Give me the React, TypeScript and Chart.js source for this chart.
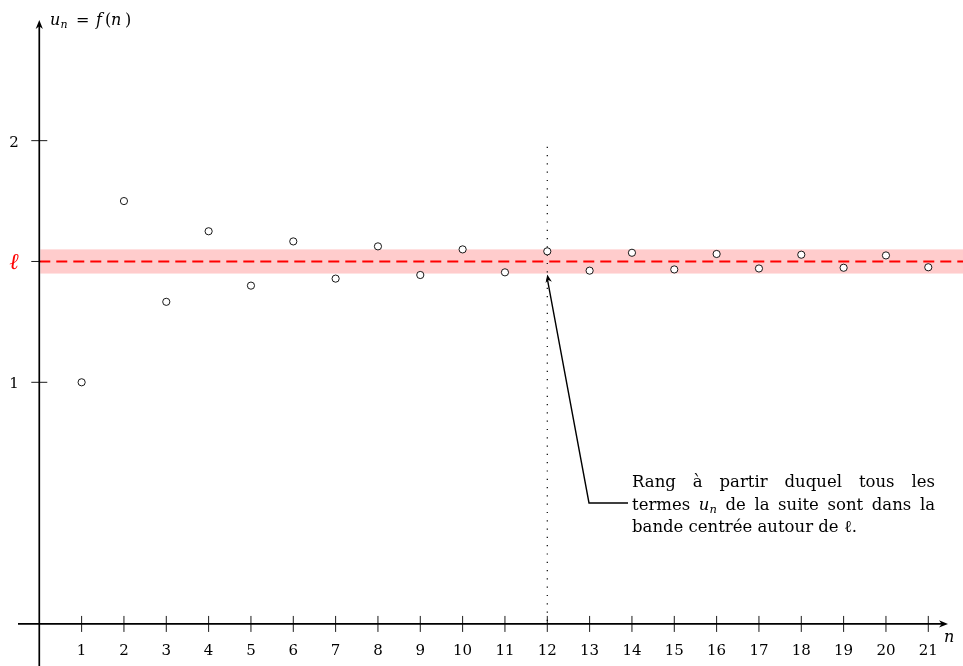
import React, { useEffect, useRef } from "react";
import { Chart, registerables } from "chart.js";

Chart.register(...registerables);

// ---- data ----
const ranks = [1, 2, 3, 4, 5, 6, 7, 8, 9, 10, 11, 12, 13, 14, 15, 16, 17, 18, 19, 20, 21];
const terms = [1.0, 1.75, 1.333, 1.625, 1.4, 1.583, 1.429, 1.5625, 1.444, 1.55, 1.455, 1.542, 1.462, 1.536, 1.467, 1.531, 1.471, 1.528, 1.474, 1.525, 1.476];
const xTickValues = [1, 2, 3, 4, 5, 6, 7, 8, 9, 10, 11, 12, 13, 14, 15, 16, 17, 18, 19, 20, 21];
const yTickValues = [1, 2];
const limitValue = 1.5;
const bandLow = 1.45;
const bandHigh = 1.55;
const thresholdRank = 12;
const thresholdTop = 1.975;
const xRange = [-0.928, 21.82];
const yRange = [-0.174, 2.582];
const noteLine1 = ["Rang", "à", "partir", "duquel", "tous", "les"];
const noteLine2 = ["termes", "$un", "de", "la", "suite", "sont", "dans", "la"];
const noteLine3 = ["bande", "centrée", "autour", "de", "ℓ."];

const SERIF = '"DejaVu Serif", "Liberation Serif", serif';

type Run = { t: string; italic?: boolean; size: number; dy?: number; color?: string; x?: number };

function setFont(ctx: CanvasRenderingContext2D, r: Run) {
  ctx.font = `${r.italic ? "italic " : ""}${r.size}px ${SERIF}`;
}
function measureRuns(ctx: CanvasRenderingContext2D, runs: Run[]) {
  let w = 0;
  for (const r of runs) {
    setFont(ctx, r);
    w += ctx.measureText(r.t).width;
  }
  return w;
}
function drawRuns(ctx: CanvasRenderingContext2D, runs: Run[], x: number, y: number) {
  let cx = x;
  ctx.textAlign = "left";
  ctx.textBaseline = "alphabetic";
  for (const r of runs) {
    setFont(ctx, r);
    ctx.fillStyle = r.color || "#000";
    if (r.x !== undefined) cx = r.x;
    ctx.fillText(r.t, cx, y + (r.dy || 0));
    cx += ctx.measureText(r.t).width;
  }
  return cx - x;
}

const NOTE_SIZE = 16.5;
function wordRuns(w: string): Run[] {
  if (w === "$un") {
    return [
      { t: "u", italic: true, size: NOTE_SIZE },
      { t: "n", italic: true, size: 11.5, dy: 3 },
    ];
  }
  return [{ t: w, size: NOTE_SIZE }];
}

function drawLine(ctx: CanvasRenderingContext2D, words: string[], x0: number, x1: number, y: number, justify: boolean) {
  const runs = words.map(wordRuns);
  const widths = runs.map((r) => measureRuns(ctx, r));
  const total = widths.reduce((a, b) => a + b, 0);
  ctx.font = `${NOTE_SIZE}px ${SERIF}`;
  const space = justify ? (x1 - x0 - total) / (words.length - 1) : ctx.measureText(" ").width;
  let x = x0;
  runs.forEach((r, i) => {
    drawRuns(ctx, r, x, y);
    x += widths[i] + space;
  });
}

function filledArrow(ctx: CanvasRenderingContext2D, x: number, y: number, ang: number, len: number, half: number) {
  ctx.save();
  ctx.translate(x, y);
  ctx.rotate(ang);
  ctx.beginPath();
  ctx.moveTo(0, 0);
  ctx.lineTo(-len, -half);
  ctx.lineTo(-len * 0.7, 0);
  ctx.lineTo(-len, half);
  ctx.closePath();
  ctx.fillStyle = "#000";
  ctx.fill();
  ctx.restore();
}

const decor = {
  id: "decor",
  beforeDatasetsDraw(chart: any) {
    const ctx: CanvasRenderingContext2D = chart.ctx;
    const xs = chart.scales.x;
    const ys = chart.scales.y;
    const W = chart.width;
    const H = chart.height;
    const x0 = xs.getPixelForValue(0);
    const y0 = ys.getPixelForValue(0);
    ctx.save();
    // band
    const bt = ys.getPixelForValue(bandHigh);
    const bb = ys.getPixelForValue(bandLow);
    ctx.fillStyle = "rgba(255, 0, 0, 0.2)";
    ctx.fillRect(x0 + 1, bt, W - x0 - 1, bb - bt);
    // dashed limit line
    const yl = ys.getPixelForValue(limitValue);
    ctx.strokeStyle = "#ff0000";
    ctx.lineWidth = 2;
    ctx.setLineDash([11, 6]);
    ctx.beginPath();
    ctx.moveTo(x0, yl);
    ctx.lineTo(W, yl);
    ctx.stroke();
    // dotted threshold line
    const xt = xs.getPixelForValue(thresholdRank);
    ctx.strokeStyle = "#000";
    ctx.lineWidth = 1.2;
    ctx.setLineDash([1.2, 7.1]);
    ctx.beginPath();
    ctx.moveTo(xt, ys.getPixelForValue(thresholdTop));
    ctx.lineTo(xt, y0);
    ctx.stroke();
    ctx.setLineDash([]);
    // axes
    ctx.strokeStyle = "#000";
    ctx.lineWidth = 1.7;
    ctx.beginPath();
    ctx.moveTo(18, y0);
    ctx.lineTo(944, y0);
    ctx.moveTo(x0, H);
    ctx.lineTo(x0, 24);
    ctx.stroke();
    filledArrow(ctx, 948, y0, 0, 9, 3.6);
    filledArrow(ctx, x0, 20, -Math.PI / 2, 9, 3.6);
    // ticks
    ctx.lineWidth = 0.9;
    ctx.beginPath();
    for (const v of xTickValues) {
      const px = xs.getPixelForValue(v);
      ctx.moveTo(px, y0 - 8);
      ctx.lineTo(px, y0 + 8);
    }
    for (const v of yTickValues) {
      const py = ys.getPixelForValue(v);
      ctx.moveTo(x0 - 8, py);
      ctx.lineTo(x0 + 8, py);
    }
    ctx.moveTo(x0 - 8, yl);
    ctx.lineTo(x0 + 1, yl);
    ctx.stroke();
    // tick labels
    ctx.fillStyle = "#000";
    ctx.font = `15px ${SERIF}`;
    ctx.textAlign = "center";
    ctx.textBaseline = "alphabetic";
    for (const v of xTickValues) {
      ctx.fillText(String(v), xs.getPixelForValue(v), 655);
    }
    for (const v of yTickValues) {
      ctx.fillText(String(v), 14, ys.getPixelForValue(v) + 6);
    }
    ctx.fillStyle = "#ff0000";
    ctx.font = `italic 23px ${SERIF}`;
    ctx.fillText("ℓ", 14, yl + 8);
    // axis titles
    drawRuns(
      ctx,
      [
        { t: "u", italic: true, size: 16, x: 50 },
        { t: "n", italic: true, size: 11, dy: 3, x: 60.5 },
        { t: "=", size: 16, x: 76 },
        { t: "f", italic: true, size: 16, x: 96 },
        { t: "(", size: 16, x: 105 },
        { t: "n", italic: true, size: 16, x: 111 },
        { t: ")", size: 16, x: 125 },
      ],
      50,
      25
    );
    drawRuns(ctx, [{ t: "n", italic: true, size: 16 }], 944, 642);
    ctx.restore();
  },
  afterDatasetsDraw(chart: any) {
    const ctx: CanvasRenderingContext2D = chart.ctx;
    const xs = chart.scales.x;
    const ys = chart.scales.y;
    ctx.save();
    // annotation arrow
    const tipX = xs.getPixelForValue(thresholdRank);
    const tipY = ys.getPixelForValue(bandLow) + 1;
    const cx = 589;
    const cy = 503;
    ctx.strokeStyle = "#000";
    ctx.lineWidth = 1.4;
    ctx.beginPath();
    ctx.moveTo(628, cy);
    ctx.lineTo(cx, cy);
    ctx.lineTo(tipX, tipY + 4);
    ctx.stroke();
    const ang = Math.atan2(tipY - cy, tipX - cx);
    filledArrow(ctx, tipX, tipY, ang, 8, 3.2);
    // annotation text
    drawLine(ctx, noteLine1, 632, 935, 487, true);
    drawLine(ctx, noteLine2, 632, 935, 510, true);
    drawLine(ctx, noteLine3, 632, 935, 532, false);
    ctx.restore();
  },
};

export default function App() {
  const ref = useRef<HTMLCanvasElement | null>(null);
  useEffect(() => {
    document.body.style.margin = "0";
    const canvas = ref.current!;
    const chart = new Chart(canvas, {
      type: "scatter",
      data: {
        datasets: [
          {
            data: ranks.map((n, i) => ({ x: n, y: terms[i] })),
            pointRadius: 3.6,
            pointBackgroundColor: "#ffffff",
            pointBorderColor: "#000000",
            pointBorderWidth: 0.9,
            showLine: false,
          },
        ],
      },
      options: {
        animation: false,
        responsive: false,
        events: [],
        layout: { padding: 0, autoPadding: false },
        plugins: { legend: { display: false }, tooltip: { enabled: false } },
        scales: {
          x: { type: "linear", min: xRange[0], max: xRange[1], display: false },
          y: { type: "linear", min: yRange[0], max: yRange[1], display: false },
        },
      },
      plugins: [decor],
    });
    return () => chart.destroy();
  }, []);
  return (
    <div style={{ position: "absolute", left: 0, top: 0, width: 963, height: 666, background: "#fff" }}>
      <canvas ref={ref} width={963} height={666} style={{ display: "block", width: 963, height: 666 }} />
    </div>
  );
}
